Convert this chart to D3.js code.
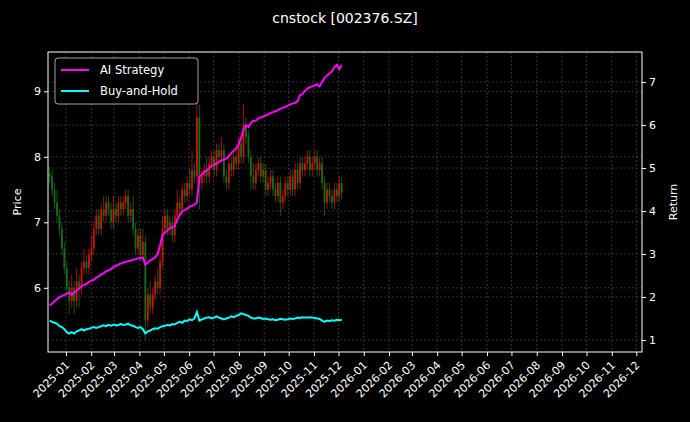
<!DOCTYPE html>
<html><head><meta charset="utf-8">
<script src="https://cdn.jsdelivr.net/npm/d3@7"></script>
<style>body{margin:0;background:#000}svg{display:block}text{font-family:"DejaVu Sans",sans-serif}</style>
</head><body><svg id="c" width="690" height="422"></svg>
<script>
const title = "cnstock [002376.SZ]";
const startDate = "2024-12-12", endDate = "2025-12-05";
const closes = [7.7,7.5,7.3,7.1,6.9, 6.6,6.3,6.0,5.8,6.0, 5.8,6.1,6.0,6.3,6.4, 6.3,6.5,6.6,6.9,7.1,
 6.9,7.2,7.1,7.3,7.2, 7.0,7.2,7.1,7.3,7.2, 7.3,7.4,7.1,7.2,6.9, 6.6,6.8,6.5,6.7,5.5,
 5.9,5.7,5.9,6.1,6.0, 6.4,6.9,7.1,6.9,7.0, 6.8,7.1,7.3,7.2,7.5, 7.4,7.6,7.5,7.8,7.7,
 8.6,7.6,7.7,7.8,7.7, 7.9,8.0,7.8,8.1,8.0, 8.1,7.7,7.6,7.9,7.8, 8.0,7.9,8.2,8.0,8.5,
 8.3,8.0,7.7,7.6,7.8, 7.9,7.7,7.8,7.5,7.6, 7.7,7.5,7.4,7.6,7.3, 7.4,7.6,7.5,7.7,7.5,
 7.8,7.6,7.9,7.8,7.9, 8.0,7.8,7.9,8.0,7.8, 7.9,7.6,7.3,7.5,7.4, 7.3,7.5,7.4,7.6,7.45];
const wickUp = [0.1,0.1,0.1,0.2,0.1, 0.1,0.1,0.1,0.1,0.2, 0.1,0.2,0.1,0.1,0.2, 0.1,0.1,0.2,0.1,0.1,
 0.1,0.1,0.2,0.1,0.1, 0.1,0.2,0.1,0.1,0.1, 0.1,0.1,0.1,0.1,0.2, 0.1,0.1,0.1,0.2,0.1,
 0.1,0.2,0.1,0.1,0.2, 0.1,0.2,0.1,0.1,0.1, 0.1,0.1,0.2,0.1,0.1, 0.1,0.1,0.2,0.3,0.1,
 0.3,0.2,0.1,0.1,0.2, 0.1,0.1,0.1,0.1,0.1, 0.2,0.1,0.1,0.1,0.1, 0.1,0.2,0.1,0.1,0.3,
 0.1,0.1,0.1,0.2,0.1, 0.1,0.1,0.1,0.1,0.1, 0.1,0.1,0.1,0.1,0.1, 0.1,0.1,0.1,0.1,0.1,
 0.1,0.1,0.1,0.1,0.1, 0.1,0.1,0.1,0.1,0.1, 0.1,0.1,0.1,0.1,0.1, 0.1,0.1,0.1,0.1,0.1];
const wickDn = [0.1,0.1,0.1,0.1,0.1, 0.1,0.1,0.1,0.2,0.1, 0.2,0.1,0.3,0.1,0.1, 0.1,0.1,0.1,0.1,0.1,
 0.1,0.1,0.1,0.1,0.1, 0.1,0.1,0.1,0.1,0.1, 0.1,0.1,0.1,0.1,0.1, 0.1,0.1,0.1,0.1,0.3,
 0.1,0.1,0.1,0.1,0.1, 0.1,0.1,0.1,0.1,0.1, 0.1,0.1,0.1,0.1,0.1, 0.1,0.1,0.1,0.1,0.1,
 0.1,0.4,0.1,0.1,0.1, 0.1,0.1,0.1,0.1,0.1, 0.1,0.1,0.1,0.1,0.1, 0.1,0.1,0.1,0.1,0.1,
 0.1,0.1,0.2,0.1,0.1, 0.1,0.1,0.1,0.1,0.1, 0.1,0.1,0.1,0.1,0.2, 0.1,0.1,0.1,0.1,0.1,
 0.1,0.1,0.1,0.1,0.1, 0.1,0.1,0.1,0.1,0.1, 0.1,0.1,0.2,0.1,0.1, 0.1,0.1,0.1,0.1,0.1];
const aiReturn = [1.80,1.85,1.90,1.95,2.00,2.02,2.05,2.08,2.10,2.05, 2.10,2.15,2.20,2.25,2.28,2.30,2.35,2.38,2.40,2.45,
 2.48,2.52,2.55,2.60,2.62,2.65,2.70,2.72,2.75,2.78, 2.80,2.82,2.83,2.85,2.86,2.88,2.90,2.90,2.92,2.75,
 2.80,2.85,2.88,2.92,3.00,3.20,3.45,3.50,3.55,3.60, 3.62,3.65,3.80,3.90,4.00,4.02,4.05,4.10,4.12,4.15,
 4.20,4.80,4.85,4.90,4.95,5.00,5.05,5.08,5.10,5.15, 5.18,5.20,5.22,5.28,5.35,5.40,5.45,5.55,5.70,5.90,
 6.00,5.95,6.05,6.10,6.10,6.15,6.18,6.20,6.22,6.25, 6.28,6.30,6.32,6.35,6.38,6.40,6.42,6.45,6.48,6.50,
 6.52,6.55,6.70,6.72,6.80,6.85,6.88,6.90,6.92,6.95, 6.90,7.00,7.10,7.15,7.20,7.25,7.35,7.40,7.30,7.40];
const bhReturn = [1.45,1.42,1.40,1.38,1.32,1.30,1.25,1.18,1.15,1.18, 1.15,1.20,1.22,1.25,1.22,1.25,1.26,1.28,1.30,1.28,
 1.30,1.32,1.34,1.32,1.35,1.33,1.36,1.34,1.35,1.37, 1.35,1.36,1.38,1.34,1.33,1.30,1.28,1.30,1.25,1.15,
 1.20,1.22,1.25,1.27,1.26,1.30,1.32,1.33,1.35,1.34, 1.37,1.36,1.40,1.42,1.40,1.45,1.44,1.48,1.46,1.50,
 1.65,1.45,1.48,1.50,1.52,1.53,1.50,1.52,1.55,1.52, 1.50,1.48,1.50,1.52,1.55,1.53,1.56,1.58,1.62,1.60,
 1.58,1.56,1.52,1.50,1.50,1.52,1.51,1.49,1.50,1.48, 1.47,1.48,1.46,1.47,1.49,1.48,1.47,1.48,1.50,1.49,
 1.50,1.52,1.51,1.53,1.52,1.52,1.53,1.52,1.51,1.50, 1.49,1.45,1.42,1.45,1.44,1.46,1.45,1.47,1.46,1.47];
const priceTicks = [6,7,8,9];
const returnTicks = [1,2,3,4,5,6,7];
const legendLabels = ["AI Strategy","Buy-and-Hold"];

const svg = d3.select("#c");
const L=48,R=642,T=52,B=352;
const parse=d3.timeParse("%Y-%m-%d");
const d0=parse(startDate), d1=parse(endDate);
const n=closes.length;
const dates=closes.map((_,i)=>new Date(+d0+(d1-d0)*i/(n-1)));
const x=d3.scaleTime().domain([parse("2024-12-10"),parse("2026-12-08")]).range([L,R]);
const y=d3.scaleLinear().domain([5.02,9.6]).range([B,T]);
const y2=d3.scaleLinear().domain([0.72,7.7]).range([B,T]);
svg.append("rect").attr("width",690).attr("height",422).attr("fill","#000");
const months=d3.timeMonth.range(parse("2025-01-01"),parse("2026-12-02"));
const grid=svg.append("g").attr("stroke","#555").attr("stroke-width",0.6).attr("stroke-dasharray","2,2");
months.forEach(m=>grid.append("line").attr("x1",x(m)).attr("x2",x(m)).attr("y1",T).attr("y2",B));
priceTicks.forEach(v=>grid.append("line").attr("x1",L).attr("x2",R).attr("y1",y(v)).attr("y2",y(v)));
returnTicks.forEach(v=>grid.append("line").attr("x1",L).attr("x2",R).attr("y1",y2(v)).attr("y2",y2(v)));
const cd=closes.map((c,i)=>{const o=i?closes[i-1]:c+0.05;return {d:dates[i],o,c,h:Math.max(o,c)+wickUp[i],l:Math.min(o,c)-wickDn[i]};});
const cg=svg.append("g").attr("opacity",0.8);
cg.selectAll("line").data(cd).join("line").attr("x1",d=>x(d.d)).attr("x2",d=>x(d.d)).attr("y1",d=>y(d.h)).attr("y2",d=>y(d.l))
 .attr("stroke",d=>d.c>=d.o?"#ff1a00":"#1a8a1a").attr("stroke-width",0.8);
cg.selectAll("rect").data(cd).join("rect").attr("x",d=>x(d.d)-0.9).attr("width",1.8)
 .attr("y",d=>y(Math.max(d.o,d.c))).attr("height",d=>Math.max(0.6,Math.abs(y(d.o)-y(d.c))))
 .attr("fill",d=>d.c>=d.o?"#ff1a00":"#1a8a1a");
const line=arr=>d3.line().x((_,i)=>x(dates[i])).y(v=>y2(v))(arr);
svg.append("path").attr("d",line(aiReturn)).attr("fill","none").attr("stroke","#ff00ff").attr("stroke-width",2);
svg.append("path").attr("d",line(bhReturn)).attr("fill","none").attr("stroke","#00ffff").attr("stroke-width",2);
svg.append("rect").attr("x",L).attr("y",T).attr("width",R-L).attr("height",B-T).attr("fill","none").attr("stroke","#fff").attr("stroke-width",1);
const ax=svg.append("g").attr("transform",`translate(0,${B})`).call(d3.axisBottom(x).tickValues(months).tickFormat(d3.timeFormat("%Y-%m")).tickSize(4));
const ay=svg.append("g").attr("transform",`translate(${L},0)`).call(d3.axisLeft(y).tickValues(priceTicks).tickFormat(d3.format("d")).tickSize(4));
const ay2=svg.append("g").attr("transform",`translate(${R},0)`).call(d3.axisRight(y2).tickValues(returnTicks).tickFormat(d3.format("d")).tickSize(4));
[ax,ay,ay2].forEach(a=>{a.select(".domain").remove();a.selectAll("line").attr("stroke","#fff");a.selectAll("text").attr("fill","#fff").attr("font-size",11).style("font-family","DejaVu Sans");});
ax.selectAll("text").attr("text-anchor","end").attr("x",0).attr("y",0).attr("dy","0.35em").attr("transform","translate(1,11) rotate(-45)");
svg.append("text").attr("x",345).attr("y",23).attr("text-anchor","middle").attr("fill","#fff").attr("font-size",14).text(title);
svg.append("text").attr("transform","translate(21,202) rotate(-90)").attr("text-anchor","middle").attr("fill","#fff").attr("font-size",11).text("Price");
svg.append("text").attr("transform","translate(677,202) rotate(-90)").attr("text-anchor","middle").attr("fill","#fff").attr("font-size",11).text("Return");
const lg=svg.append("g");
lg.append("rect").attr("x",55).attr("y",58).attr("width",143).attr("height",46).attr("rx",3).attr("fill","#000").attr("stroke","#ccc").attr("stroke-width",0.8);
["#ff00ff","#00ffff"].forEach((c,i)=>{
 lg.append("line").attr("x1",61).attr("x2",89).attr("y1",70+i*21).attr("y2",70+i*21).attr("stroke",c).attr("stroke-width",2);
 lg.append("text").attr("x",100).attr("y",74+i*21).attr("fill","#fff").attr("font-size",11.5).text(legendLabels[i]);
});
</script></body></html>
